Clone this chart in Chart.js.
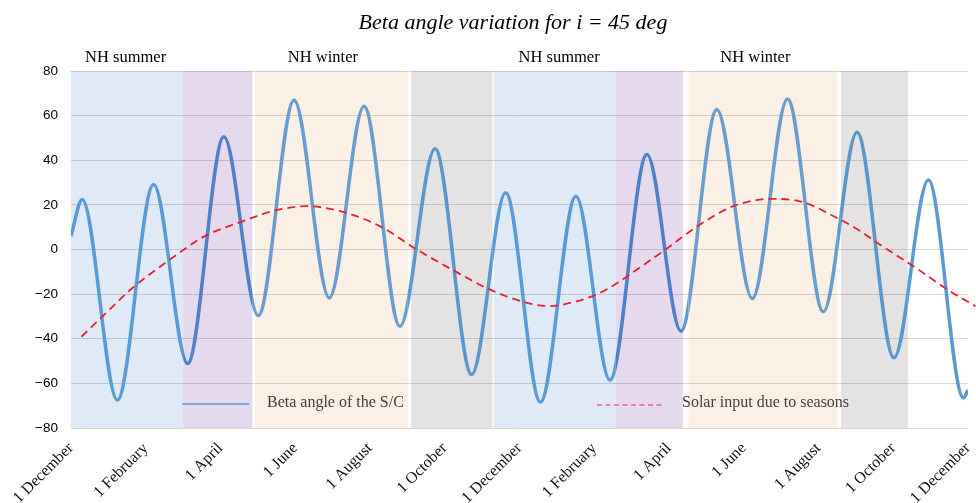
<!DOCTYPE html>
<html>
<head>
<meta charset="utf-8">
<script src="https://cdn.jsdelivr.net/npm/chart.js@4/dist/chart.umd.min.js"></script>
<style>
  html, body { margin: 0; padding: 0; background: #fff; }
</style>
</head>
<body>
<canvas id="betaChart" width="976" height="503"></canvas>
<script>
// x axis is in months from 1 December (0) to 1 December two years later (24)
const xTickLabels = ['1 December', '1 February', '1 April', '1 June', '1 August', '1 October',
  '1 December', '1 February', '1 April', '1 June', '1 August', '1 October', '1 December'];

// Beta angle of the S/C (deg) - read at the turning points of the curve
const betaMonths = [0, 0.30, 1.24, 2.21, 3.12, 4.09, 5.01, 5.97, 6.91, 7.84, 8.80, 9.74, 10.72,
  11.63, 12.56, 13.51, 14.42, 15.41, 16.32, 17.28, 18.23, 19.17, 20.13, 21.03, 22.02, 22.94, 23.88, 24.0];
const betaValues = [6.0, 22.4, -67.5, 29.1, -51.1, 50.5, -29.6, 66.9, -21.7, 64.2, -34.4, 45.1, -56.0,
  25.4, -68.4, 23.9, -58.5, 42.6, -36.6, 62.7, -22.0, 67.5, -27.9, 52.6, -48.5, 31.1, -66.5, -63.0];

// Solar input due to seasons
const solarMonths = [0.28, 0.9, 1.62, 2.65, 3.58, 4.52, 5.5, 6.3, 7.2, 8.26, 9.25, 10.27, 11.2, 12.2,
  12.77, 13.44, 14.16, 14.69, 15.14, 15.85, 16.83, 17.72, 18.7, 19.5, 20.58, 21.12, 21.57, 22.55, 23.49, 24.2];
const solarValues = [-39.1, -29.1, -17.6, -4.5, 6.0, 12.2, 17.6, 19.4, 17.2, 10.5, 0, -9.7, -17.9, -23.9,
  -25.4, -23.6, -19.4, -14.2, -9.0, -0.7, 11.2, 19.4, 22.7, 21.6, 13.4, 8.2, 3.0, -7.6, -18.4, -25.4];

// season bands (months)
const bandStart = [0, 3.0, 4.92, 9.10, 11.32, 14.57, 16.52, 20.60];
const bandEnd   = [3.0, 4.85, 9.01, 11.28, 14.57, 16.37, 20.50, 22.39];
const bandColor = ['#dfeaf6', '#e5d9ed', '#fbf0e6', '#e4e2e3', '#dfeaf6', '#e5d9ed', '#fbf0e6', '#e4e2e3'];
// how the beta line looks through each band
const bandLineColor = ['#5b9bd5', '#4f80c8', '#6a9cce', '#5b96cd', '#5b9bd5', '#4f80c8', '#6a9cce', '#5b96cd'];

const seasonLabels = ['NH summer', 'NH winter', 'NH summer', 'NH winter'];
const seasonLabelAt = [1.46, 6.74, 13.06, 18.31];

const serif = '"Liberation Serif", "Times New Roman", serif';

function bandRect(chart, i) {
  const { chartArea, scales } = chart;
  const x0 = scales.x.getPixelForValue(bandStart[i]);
  const x1 = scales.x.getPixelForValue(bandEnd[i]);
  return [x0, chartArea.top, x1 - x0, chartArea.bottom - chartArea.top];
}

const bands = {
  id: 'bands',
  beforeDraw(chart) {
    const ctx = chart.ctx;
    ctx.save();
    bandStart.forEach((s, i) => {
      ctx.fillStyle = bandColor[i];
      ctx.fillRect(...bandRect(chart, i));
    });
    ctx.restore();
  },
  // beta line: plain colour outside the bands, tinted inside them
  beforeDatasetDraw(chart, args) {
    if (args.index !== 0) return;
    const ctx = chart.ctx;
    ctx.save();
    ctx.beginPath();
    ctx.rect(0, 0, chart.width, chart.height);
    bandStart.forEach((s, i) => {
      if (bandLineColor[i] !== args.meta.dataset.options.borderColor) ctx.rect(...bandRect(chart, i));
    });
    ctx.clip('evenodd');
  },
  afterDatasetDraw(chart, args) {
    if (args.index !== 0) return;
    const { ctx, chartArea } = chart;
    ctx.restore();
    const line = args.meta.dataset;
    const base = line.options.borderColor;
    bandStart.forEach((s, i) => {
      if (bandLineColor[i] === base) return;
      const tinted = Object.create(line);
      tinted.options = Object.assign({}, line.options, { borderColor: bandLineColor[i] });
      ctx.save();
      ctx.beginPath();
      ctx.rect(...bandRect(chart, i));
      ctx.clip();
      tinted.draw(ctx, chartArea);
      ctx.restore();
    });
  }
};

const annotations = {
  id: 'annotations',
  afterDraw(chart) {
    const { ctx, scales } = chart;
    ctx.save();
    // title
    ctx.fillStyle = '#000';
    ctx.font = 'italic 22px ' + serif;
    ctx.textAlign = 'center';
    ctx.textBaseline = 'alphabetic';
    ctx.fillText('Beta angle variation for i = 45 deg', 513, 29);

    // season labels
    ctx.font = '16.5px ' + serif;
    seasonLabels.forEach((t, i) => {
      ctx.fillText(t, scales.x.getPixelForValue(seasonLabelAt[i]), 62);
    });

    // legend
    ctx.textAlign = 'left';
    ctx.fillStyle = '#404040';
    ctx.font = '16px ' + serif;
    ctx.fillText('Beta angle of the S/C', 267, 407);
    ctx.fillText('Solar input due to seasons', 682, 407);

    ctx.strokeStyle = '#5b9bd5';
    ctx.lineWidth = 1.5;
    ctx.beginPath(); ctx.moveTo(182, 404); ctx.lineTo(249, 404); ctx.stroke();

    ctx.strokeStyle = '#e0343c';
    ctx.lineWidth = 1.2;
    ctx.setLineDash([5, 3.5]);
    ctx.beginPath(); ctx.moveTo(597, 405); ctx.lineTo(665, 405); ctx.stroke();
    ctx.restore();
  }
};

new Chart(document.getElementById('betaChart'), {
  type: 'line',
  data: {
    datasets: [
      {
        label: 'Beta angle of the S/C',
        data: betaMonths.map((m, i) => ({ x: m, y: betaValues[i] })),
        borderColor: '#5b9bd5',
        borderWidth: 3.5,
        pointRadius: 0,
        cubicInterpolationMode: 'monotone',
        order: 2
      },
      {
        label: 'Solar input due to seasons',
        data: solarMonths.map((m, i) => ({ x: m, y: solarValues[i] })),
        borderColor: '#e8202a',
        borderWidth: 1.8,
        borderDash: [8, 5],
        pointRadius: 0,
        cubicInterpolationMode: 'monotone',
        clip: false,
        order: 1
      }
    ]
  },
  options: {
    responsive: false,
    animation: false,
    devicePixelRatio: 1,
    layout: { padding: { top: 71, right: 8, left: 0, bottom: 0 } },
    plugins: {
      legend: { display: false },
      title: { display: false },
      tooltip: { enabled: false }
    },
    scales: {
      x: {
        type: 'linear',
        min: 0,
        max: 24,
        grid: { display: false },
        border: { display: false },
        ticks: {
          stepSize: 2,
          autoSkip: false,
          minRotation: 45,
          maxRotation: 45,
          padding: 3,
          color: '#111',
          font: { family: serif, size: 16 },
          callback: (v) => xTickLabels[Math.round(v / 2)]
        },
        afterFit(scale) {
          scale.height = 75;
          scale.paddingLeft = 0;
          scale.paddingRight = 0;
        }
      },
      y: {
        min: -80,
        max: 80,
        grid: { color: 'rgba(0,0,0,0.15)', drawTicks: false },
        border: { display: false },
        ticks: {
          stepSize: 20,
          padding: 13,
          color: '#000',
          font: { family: '"Liberation Sans", Arial, sans-serif', size: 13.5 },
          callback: (v) => (v < 0 ? '\u2212' + Math.abs(v) : '' + v)
        },
        afterFit(scale) {
          scale.width = 71;
          scale.paddingTop = 0;
          scale.paddingBottom = 0;
        }
      }
    }
  },
  plugins: [bands, annotations]
});
</script>
</body>
</html>
